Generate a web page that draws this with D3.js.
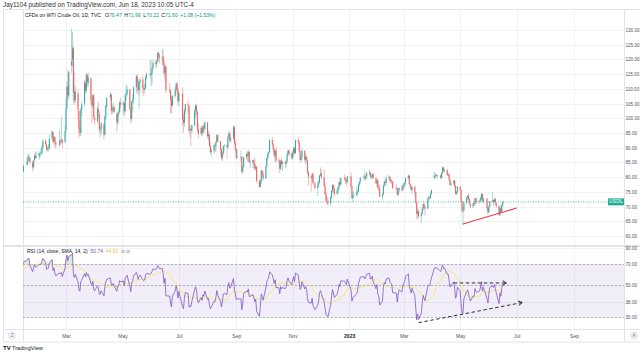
<!DOCTYPE html>
<html>
<head>
<meta charset="utf-8">
<script src="https://cdn.jsdelivr.net/npm/d3@7"></script>
<style>
  body { margin: 0; background: #fff; }
  svg { display: block; font-family: "Liberation Sans", Arial, sans-serif; }
</style>
</head>
<body>
<div id="container"></div>
<script>
let w = 640;
let h = 352;

// exchange holidays (no daily bar)
let holidays = ["2021-12-24","2022-01-17","2022-02-21","2022-04-15","2022-05-30","2022-06-20",
  "2022-07-04","2022-09-05","2022-11-24","2022-12-26","2023-01-02","2023-01-16","2023-02-20",
  "2023-04-07","2023-05-29"];
let firstDay = "2021-11-29";

// daily bars [open, high, low, close], one per trading day from firstDay
let ohlc = [
  // Nov/Dec 2021 (before the visible window, used for RSI warm-up)
  [68.5,70.9,67.4,69.9],[69.9,70.2,64.4,66.2],[66.2,69.4,64.6,65.6],[65.6,67.1,62.4,66.5],[66.5,69.1,64.9,66.3],
  [66.3,69.9,66.2,69.5],[69.5,72.4,69.4,72.1],[72.1,72.9,71.5,72.4],[72.4,72.6,70.3,70.9],[70.9,72.1,70.2,71.7],
  [71.7,72.1,70.4,71.3],[71.3,71.7,69.9,70.7],[70.7,71.4,69.3,70.9],[70.9,72.9,70.6,72.4],[72.4,72.5,69.8,70.9],
  [70.9,71.0,66.1,68.2],[68.2,71.3,68.1,71.1],[71.1,72.9,70.8,72.8],[72.8,73.9,72.5,73.8],[73.8,75.8,72.6,75.6],
  [75.6,76.9,75.3,76.0],[76.0,77.0,75.1,76.6],[76.6,77.2,75.8,77.0],[77.0,77.1,74.9,75.2],
  // Jan 2022
  [75.2,76.6,74.3,76.1],[76.1,77.6,75.6,77.0],[77.0,78.4,76.3,77.9],[77.9,80.2,76.7,79.5],[79.5,80.0,78.1,78.9],
  [78.9,79.2,77.3,78.2],[78.2,81.3,77.9,81.2],[81.2,82.7,81.0,82.6],
  [82.6,83.0,81.3,82.1],[82.0,84.3,81.7,83.8],[84.1,86.6,83.9,85.4],[85.5,87.9,84.5,87.0],[86.8,87.9,85.4,86.9],
  [86.5,86.8,84.5,85.1],[85.0,85.6,81.9,83.3],[83.4,85.8,82.8,85.6],[85.8,87.9,85.3,87.4],[87.3,88.5,86.0,86.6],
  [86.6,88.8,86.4,86.8],[87.0,88.3,85.9,88.2],
  // Feb 2022
  [88.2,88.9,86.6,88.2],[88.1,89.7,87.6,88.3],[88.2,90.5,87.3,90.3],[90.2,93.2,89.4,92.3],[92.5,93.0,90.5,91.3],
  [91.1,91.5,88.5,89.4],[89.4,90.3,88.9,89.7],[89.9,91.2,88.7,89.9],[89.8,94.7,89.4,93.1],[93.5,95.8,92.5,95.5],
  [95.3,95.5,91.5,92.1],[92.0,93.8,91.0,93.7],[93.6,93.8,90.2,91.8],[91.8,92.3,89.6,91.1],[91.0,96.0,90.1,92.4],
  [92.3,93.0,91.0,92.1],[92.7,100.5,91.4,92.8],[92.6,93.0,89.9,91.6],[92.0,97.4,91.4,95.7],
  // Mar 2022
  [96.0,106.8,95.3,103.4],[103.5,112.5,103.0,110.6],[110.9,116.6,106.5,107.7],[107.8,116.0,106.5,115.7],
  [118.0,130.5,115.4,119.4],[120.0,129.4,117.6,123.7],[124.0,124.5,105.3,108.7],[109.0,116.0,104.5,106.0],
  [106.2,111.3,105.2,109.3],[108.5,109.9,99.8,103.0],[102.5,103.2,93.5,96.4],[96.5,99.4,93.9,95.0],
  [95.0,103.6,94.0,103.0],[102.8,105.7,100.6,104.7],[105.0,112.7,103.7,112.1],[111.9,112.9,108.3,109.3],
  [109.5,115.4,108.5,114.9],[114.6,115.1,110.5,112.3],[112.0,115.7,110.7,113.9],[113.5,114.0,104.9,106.0],
  [105.8,107.0,98.4,104.2],[104.4,108.4,103.3,107.8],[107.8,108.2,99.8,100.3],
  // Apr 2022
  [100.0,101.2,97.7,99.3],[99.0,104.3,98.2,103.3],[103.0,105.7,100.4,102.0],[101.5,102.3,94.9,96.2],
  [96.0,97.4,93.5,96.0],[96.2,98.8,94.6,98.3],[97.8,98.4,92.9,94.3],[94.5,101.0,94.2,100.6],
  [100.5,104.5,99.3,104.3],[104.0,107.1,103.6,107.0],[107.0,109.2,106.0,108.2],[108.0,108.5,101.2,102.6],
  [102.5,104.5,101.3,102.8],[102.8,105.2,102.1,103.8],[103.8,104.3,101.6,102.1],[101.5,102.0,95.3,98.5],
  [98.6,102.3,97.5,101.7],[101.6,103.5,100.5,102.0],[102.1,106.0,101.7,105.4],[105.3,107.0,103.5,104.7],
  // May 2022
  [104.5,105.9,101.0,105.2],[105.0,105.5,100.6,102.4],[102.4,108.5,101.8,107.8],[107.9,111.4,106.0,108.3],
  [108.2,111.0,107.4,109.8],[109.8,110.0,102.7,103.1],[103.0,103.8,98.2,99.8],[99.8,106.0,99.0,105.7],
  [105.6,108.0,102.4,106.1],[106.2,111.0,104.9,110.5],[110.5,114.8,108.4,114.2],[114.2,115.0,109.0,112.4],
  [112.4,113.3,107.8,109.6],[109.5,112.6,103.4,112.2],[112.2,113.8,108.7,113.2],[113.2,114.6,108.5,110.3],
  [110.3,111.4,107.4,109.8],[109.8,111.8,108.6,110.3],[110.3,114.5,109.8,114.1],[114.0,115.5,113.0,115.1],
  [115.2,119.6,113.5,114.7],
  // Jun 2022
  [114.7,119.9,110.9,115.3],[115.2,117.2,111.5,116.9],[116.9,120.0,116.6,118.9],[119.0,120.0,117.4,118.5],
  [118.4,119.7,117.0,119.4],[119.4,122.7,119.1,122.1],[122.1,122.7,119.2,121.5],[121.5,122.0,118.7,120.7],
  [120.7,123.7,117.9,120.9],[120.9,123.3,118.1,118.9],[118.9,119.9,114.3,115.3],[115.3,118.3,112.6,117.6],
  [117.6,117.8,108.6,109.6],[109.6,112.0,108.5,109.5],[109.5,110.0,101.7,106.2],[106.2,107.5,101.5,104.3],
  [104.3,108.0,103.8,107.6],[107.6,110.6,106.9,109.6],[109.6,112.2,109.2,111.8],[111.8,112.3,108.0,109.8],
  [109.8,110.4,104.6,105.8],
  // Jul 2022
  [105.8,109.0,103.9,108.4],[108.4,110.4,97.4,99.5],[99.5,101.5,95.1,98.5],[98.5,103.4,97.0,102.7],
  [102.7,105.0,101.3,104.8],[104.8,106.1,101.6,104.1],[104.1,104.3,95.1,95.8],[95.8,97.7,93.3,96.3],
  [96.3,96.8,90.6,95.8],[95.8,98.0,94.8,97.6],[97.6,103.2,97.4,102.6],[102.6,105.0,100.1,104.2],
  [104.2,104.7,101.1,102.3],[102.3,102.4,95.4,96.4],[96.4,98.4,93.2,94.7],[94.7,97.3,94.0,96.7],
  [96.7,97.5,93.9,95.0],[95.0,97.7,94.2,97.3],[97.3,98.3,95.3,96.4],[96.4,99.1,95.6,98.6],
  // Aug 2022
  [98.6,98.8,93.2,93.9],[93.9,95.6,92.5,94.4],[94.4,95.0,90.2,90.7],[90.7,92.0,87.9,88.5],[88.5,89.7,87.0,89.0],
  [89.0,91.5,88.0,90.8],[90.8,91.2,88.6,90.5],[90.5,92.4,88.3,91.9],[91.9,94.7,91.7,94.3],[94.3,94.4,91.7,92.1],
  [92.1,92.4,87.6,89.4],[89.4,89.8,85.7,86.5],[86.5,88.6,85.4,88.0],[88.0,90.8,87.5,90.5],[90.5,91.3,88.7,90.8],
  [90.8,91.4,86.2,90.2],[90.2,94.2,89.6,93.7],[93.7,95.9,93.0,94.9],[94.9,95.3,91.8,92.5],[92.5,94.0,91.7,93.1],
  [93.1,97.6,92.8,97.0],[97.0,97.5,91.1,91.6],[91.6,92.8,88.8,89.6],
  // Sep 2022
  [89.6,89.8,85.9,86.6],[86.6,89.6,86.3,86.9],[86.9,89.1,85.2,86.9],[86.9,87.1,81.2,81.9],[81.9,84.0,81.3,83.5],
  [83.5,86.9,83.2,86.8],[86.8,88.4,86.0,87.8],[87.8,88.9,85.4,87.3],[87.3,89.4,85.2,88.5],[88.5,88.9,84.9,85.1],
  [85.1,85.9,83.1,85.1],[85.1,86.0,83.0,85.7],[85.7,86.0,83.2,84.5],[84.5,86.6,82.1,82.9],[82.9,84.4,82.4,83.5],
  [83.5,83.7,78.0,78.7],[78.7,79.3,76.3,76.7],[76.7,79.2,76.6,78.5],[78.5,82.4,77.7,82.2],[82.2,82.5,80.4,81.2],
  [81.2,81.9,78.8,79.5],
  // Oct 2022
  [79.5,83.9,79.4,83.6],[83.6,86.8,83.3,86.5],[86.5,88.4,85.6,87.8],[87.8,88.9,86.9,88.5],[88.5,93.0,88.3,92.6],
  [92.6,93.6,90.6,91.1],[91.1,91.5,88.3,89.4],[89.4,89.9,86.4,87.3],[87.3,89.3,84.9,89.1],[89.1,90.3,85.3,85.6],
  [85.6,86.6,84.9,85.5],[85.5,86.1,81.3,82.8],[82.8,85.7,82.5,85.6],[85.6,86.6,84.0,84.5],[84.5,85.5,82.1,85.1],
  [85.1,85.8,83.1,84.6],[84.6,85.6,83.4,85.3],[85.3,88.4,84.8,87.9],[87.9,89.4,87.4,89.1],[89.1,89.2,87.1,87.9],
  [87.9,88.6,85.8,86.5],
  // Nov 2022
  [86.5,89.2,86.0,88.4],[88.4,90.3,87.6,90.0],[90.0,90.0,87.4,88.2],[88.2,92.8,87.9,92.6],[92.6,93.7,91.2,91.8],
  [91.8,92.4,88.4,88.9],[88.9,89.2,85.4,85.8],[85.8,87.6,84.9,86.5],[86.5,90.0,86.0,89.0],[89.0,89.0,85.0,85.9],
  [85.9,88.1,84.3,86.9],[86.9,87.3,85.2,85.6],[85.6,85.9,81.0,81.6],[81.6,82.3,77.2,80.1],[80.1,80.6,75.1,79.7],
  [79.7,81.5,78.3,81.0],[81.0,81.6,77.5,77.9],[77.9,78.5,75.9,76.3],[76.3,78.4,73.6,77.2],[77.2,79.3,76.5,78.2],
  [78.2,80.7,77.8,80.6],
  // Dec 2022
  [80.6,83.3,80.3,81.2],[81.2,82.6,79.1,80.0],[80.0,82.6,76.8,76.9],[76.9,77.7,73.8,74.3],[74.3,75.1,71.9,72.0],
  [72.0,73.3,70.8,71.5],[71.5,73.0,70.3,71.0],[71.0,73.5,70.1,73.2],[73.2,75.6,72.6,75.4],[75.4,77.6,74.8,77.3],
  [77.3,77.5,74.5,76.1],[76.1,76.6,73.4,74.3],[74.3,76.5,74.0,75.2],[75.2,76.8,74.2,76.2],[76.2,78.4,75.9,78.3],
  [78.3,79.8,76.9,77.5],[77.5,79.9,77.4,79.6],[79.6,81.0,78.9,79.5],[79.5,80.0,77.7,79.0],[79.0,79.3,77.1,78.4],
  [78.4,80.5,77.6,80.3],
  // Jan 2023
  [80.3,81.6,76.5,76.9],[76.9,77.4,72.7,72.8],[72.8,74.9,71.5,73.7],[73.7,75.3,73.2,73.8],[73.8,76.7,73.5,74.6],
  [74.6,75.8,73.8,75.1],[75.1,77.6,74.8,77.4],[77.4,78.6,76.6,78.4],[78.4,80.0,77.7,79.9],[79.9,81.0,78.9,80.2],
  [80.2,82.3,79.1,79.5],[79.5,80.8,78.6,80.3],[80.3,81.8,79.5,81.3],[81.3,82.6,80.6,81.6],[81.6,81.8,79.8,80.1],
  [80.1,80.8,79.2,80.2],[80.2,81.2,79.3,81.0],[81.0,81.4,79.5,79.7],[79.7,80.0,77.6,77.9],[77.9,79.3,76.7,78.9],
  // Feb 2023
  [78.9,79.3,76.1,76.4],[76.4,77.6,75.2,75.9],[75.9,77.4,73.1,73.4],[73.4,74.8,72.3,74.1],[74.1,77.5,73.9,77.1],
  [77.1,78.7,76.5,78.5],[78.5,79.1,77.5,78.1],[78.1,80.5,77.0,79.7],[79.7,80.8,78.8,80.1],[80.1,80.3,78.1,79.1],
  [79.1,79.4,77.8,78.6],[78.6,79.4,77.6,78.5],[78.5,78.7,75.8,76.3],[76.3,77.6,75.6,76.2],[76.2,76.6,73.8,74.0],
  [74.0,76.2,73.7,75.4],[75.4,76.6,74.8,76.3],[76.3,77.4,75.1,75.7],[75.7,77.2,75.3,77.1],
  // Mar 2023
  [77.1,78.1,76.1,77.7],[77.7,78.3,76.4,78.2],[78.2,79.9,77.1,79.7],[79.7,80.8,79.4,80.5],[80.5,80.9,77.5,77.6],
  [77.6,77.9,76.2,76.7],[76.7,77.5,75.2,75.7],[75.7,76.9,74.3,76.7],[76.7,77.2,73.8,74.8],[74.8,75.0,70.9,71.3],
  [71.3,71.8,65.7,67.6],[67.6,69.3,66.0,68.4],[68.4,69.1,65.9,66.7],[66.7,68.1,64.4,67.6],[67.6,69.7,67.2,69.3],
  [69.3,71.0,68.9,70.9],[70.9,71.6,69.0,70.0],[70.0,70.3,66.9,69.3],[69.3,73.1,69.2,72.8],[72.8,73.8,71.8,73.2],
  [73.2,73.7,72.2,73.0],[73.0,74.9,72.7,74.4],[74.4,75.7,74.1,75.7],
  // Apr 2023
  [79.8,81.8,79.0,80.4],[80.4,81.4,79.7,80.7],[80.7,81.1,79.8,80.6],[80.6,80.9,79.4,80.7],[80.7,80.8,79.2,79.7],
  [79.7,81.6,79.5,81.5],[81.5,83.5,81.1,83.3],[83.3,83.5,81.8,82.2],[82.2,82.8,81.5,82.5],[82.5,82.6,80.4,80.8],
  [80.8,81.6,80.3,80.9],[80.9,81.1,78.6,79.2],[79.2,79.3,77.1,77.4],[77.4,78.3,76.9,77.9],[77.9,79.1,77.3,78.8],
  [78.8,79.0,76.5,77.1],[77.1,77.3,74.0,74.3],[74.3,75.3,73.9,74.8],[74.8,76.9,74.7,76.8],
  // May 2023
  [76.8,76.9,75.1,75.7],[75.7,75.8,71.4,71.7],[71.7,71.9,67.9,68.6],[68.6,69.6,63.6,68.6],[68.6,71.6,68.4,71.3],
  [71.3,73.3,70.7,73.2],[73.2,73.9,72.3,73.7],[73.7,74.4,72.0,72.6],[72.6,72.9,70.5,70.9],[70.9,71.1,69.4,70.0],
  [70.0,71.4,69.4,71.1],[71.1,71.7,70.3,70.9],[70.9,73.0,70.2,72.8],[72.8,72.9,71.4,71.9],[71.9,72.7,70.9,71.7],
  [71.7,72.5,70.8,72.0],[72.0,73.3,71.4,72.9],[72.9,74.7,72.3,74.3],[74.3,74.4,71.4,71.8],[71.8,72.9,71.0,72.7],
  [72.7,73.0,68.9,69.5],[69.5,69.9,67.0,68.1],
  // Jun 2023
  [68.1,70.4,67.8,70.1],[70.1,72.0,69.9,71.7],[71.7,75.1,71.5,72.2],[72.2,72.3,70.1,71.7],[71.7,72.9,71.4,72.5],
  [72.5,73.2,70.4,71.3],[71.3,71.4,69.5,70.2],[70.2,70.3,66.8,67.1],[67.1,69.6,66.9,69.4],[69.4,70.8,67.9,68.3],
  [68.3,70.9,67.9,70.52],[70.47,71.99,70.22,71.60]
];

let lastPrice = 71.60;

let monthTicks = ["2022-03-01","2022-05-01","2022-07-01","2022-09-01","2022-11-01",
  "2023-01-01","2023-03-01","2023-05-01","2023-07-01","2023-09-01"];
let monthLabels = ["Mar","May","Jul","Sep","Nov","2023","Mar","May","Jul","Sep"];
let priceTicks = [60,65,70,75,80,85,90,95,100,105,110,115,120,125,130];
let rsiTicks = [90,70,50,38,30];
let rsiBands = [70,50,30];

// drawings from the picture: [date, value]
let supportLine = [["2023-05-04",64.1],["2023-07-01",69.5]];
let rsiFlatLine = [["2023-04-24",51.7],["2023-06-20",51.7]];
let rsiRiseLine = [["2023-03-17",27.4],["2023-07-07",37.8]];

let parse = d3.timeParse("%Y-%m-%d");
let fmt = d3.timeFormat("%Y-%m-%d");

// trading days
let dates = [];
let day = parse(firstDay);
while (dates.length < ohlc.length) {
  let dow = day.getDay();
  if (dow != 0 && dow != 6 && !holidays.includes(fmt(day))) dates.push(new Date(day));
  day = d3.timeDay.offset(day, 1);
}
let bars = ohlc.map((d,i)=>({date:dates[i], o:d[0], h:d[1], l:d[2], c:d[3]}));

// RSI(14, close) with Wilder smoothing, then SMA 14 of it
let n = 14;
let avgUp = null, avgDn = null, sumUp = 0, sumDn = 0;
bars.forEach((b,i)=>{
  b.rsi = null; b.ma = null;
  if (i == 0) return;
  let ch = b.c - bars[i-1].c;
  let up = Math.max(ch,0), dn = Math.max(-ch,0);
  if (i <= n) {
    sumUp += up; sumDn += dn;
    if (i == n) { avgUp = sumUp/n; avgDn = sumDn/n; }
  } else {
    avgUp = (avgUp*(n-1)+up)/n;
    avgDn = (avgDn*(n-1)+dn)/n;
  }
  if (avgUp != null) b.rsi = avgDn == 0 ? 100 : 100 - 100/(1+avgUp/avgDn);
});
bars.forEach((b,i)=>{
  let win = bars.slice(Math.max(0,i-n+1), i+1).filter(d=>d.rsi!=null);
  if (win.length == n) b.ma = d3.mean(win, d=>d.rsi);
});

let left = 23, right = 624;
let priceTop = 9, priceBottom = 245;
let rsiTop = 247, rsiBottom = 329;
let axisBottom = 342;

let x = d3.scaleTime().domain([new Date(2022,2,1), new Date(2023,8,1)]).range([66,574]);
let y = d3.scaleLinear().domain([60,130]).range([236,30]);
let yR = d3.scaleLog().domain([30,70]).range([317,264]);

let up = "#26a69a", down = "#ef5350";
let grid = "#f0f2f6", border = "#e0e3eb", textCol = "#50535e";

let viz = d3.select("#container")
  .append("svg")
    .attr("width", w)
    .attr("height", h)
;

let defs = viz.append("defs");
defs.append("clipPath").attr("id","clipPrice")
  .append("rect").attr("x",left).attr("y",priceTop).attr("width",right-left).attr("height",priceBottom-priceTop);
defs.append("clipPath").attr("id","clipRsi")
  .append("rect").attr("x",left).attr("y",rsiTop).attr("width",right-left).attr("height",rsiBottom-rsiTop);
defs.append("marker").attr("id","chev")
  .attr("viewBox","0 0 8 8").attr("refX",6).attr("refY",4)
  .attr("markerWidth",6).attr("markerHeight",6).attr("markerUnits","userSpaceOnUse")
  .attr("orient","auto")
  .append("path").attr("d","M1,1 L6,4 L1,7").attr("fill","none").attr("stroke","#131722").attr("stroke-width",1.2);

// header
viz.append("text").attr("x",3).attr("y",6.5)
  .attr("font-size",6.4).attr("fill","#333")
  .text("Jay1104 published on TradingView.com, Jun 18, 2023 10:05 UTC-4");

// frame
viz.append("rect").attr("x",3.5).attr("y",9.5).attr("width",w).attr("height",axisBottom-9.5)
  .attr("fill","none").attr("stroke",border);

// grids
let vgrid = viz.append("g");
monthTicks.forEach(t=>{
  vgrid.append("line").attr("x1",Math.round(x(parse(t)))+0.5).attr("x2",Math.round(x(parse(t)))+0.5)
    .attr("y1",priceTop).attr("y2",rsiBottom).attr("stroke",grid);
});
priceTicks.forEach(t=>{
  vgrid.append("line").attr("x1",left).attr("x2",right)
    .attr("y1",Math.round(y(t))+0.5).attr("y2",Math.round(y(t))+0.5).attr("stroke",grid);
});
rsiTicks.forEach(t=>{
  vgrid.append("line").attr("x1",left).attr("x2",right)
    .attr("y1",Math.round(yR(t))+0.5).attr("y2",Math.round(yR(t))+0.5).attr("stroke",grid);
});

// structure lines
viz.append("line").attr("x1",left+0.5).attr("x2",left+0.5).attr("y1",9).attr("y2",axisBottom).attr("stroke",border);
viz.append("line").attr("x1",right+0.5).attr("x2",right+0.5).attr("y1",9).attr("y2",axisBottom).attr("stroke",border);
viz.append("rect").attr("x",3).attr("y",priceBottom).attr("width",w).attr("height",2).attr("fill",border);
viz.append("line").attr("x1",3).attr("x2",w).attr("y1",rsiBottom+0.5).attr("y2",rsiBottom+0.5).attr("stroke",border);

// candles
let pricePane = viz.append("g").attr("clip-path","url(#clipPrice)");
let candles = pricePane.selectAll(".bar").data(bars).enter()
  .append("g").attr("class","bar");
candles.append("line")
  .attr("x1",d=>x(d.date)).attr("x2",d=>x(d.date))
  .attr("y1",d=>y(d.h)).attr("y2",d=>y(d.l))
  .attr("stroke",d=>d.c>=d.o?up:down).attr("stroke-opacity",0.5).attr("stroke-width",0.8);
candles.append("rect")
  .attr("x",d=>x(d.date)-0.5).attr("width",1)
  .attr("y",d=>y(Math.max(d.o,d.c)))
  .attr("height",d=>Math.max(0.8, Math.abs(y(d.o)-y(d.c))))
  .attr("fill",d=>d.c>=d.o?up:down).attr("fill-opacity",0.9);

// last price line
pricePane.append("line").attr("x1",left).attr("x2",right)
  .attr("y1",y(lastPrice)).attr("y2",y(lastPrice))
  .attr("stroke",up).attr("stroke-width",0.8).attr("stroke-dasharray","1,1.5");
viz.append("rect").attr("x",608).attr("y",y(lastPrice)-3.5).attr("width",16).attr("height",7).attr("fill","#22ab94");
viz.append("text").attr("x",616).attr("y",y(lastPrice)+1.6).attr("text-anchor","middle")
  .attr("font-size",4.6).attr("fill","#fff").text("USOIL");

// support line
pricePane.append("line")
  .attr("x1",x(parse(supportLine[0][0]))).attr("y1",y(supportLine[0][1]))
  .attr("x2",x(parse(supportLine[1][0]))).attr("y2",y(supportLine[1][1]))
  .attr("stroke","#f23645").attr("stroke-width",1.1);

// legend
let leg = viz.append("text").attr("x",25).attr("y",17).attr("font-size",5.1).attr("fill","#131722");
leg.append("tspan").text("CFDs on WTI Crude Oil, 1D, TVC");
[["O","70.47"],["H","71.99"],["L","70.22"],["C","71.60"]].forEach((p,i)=>{
  leg.append("tspan").attr("dx", i==0?4:2.5).text(p[0]);
  leg.append("tspan").attr("fill","#089981").text(p[1]);
});
leg.append("tspan").attr("dx",2.5).attr("fill","#089981").text("+1.08 (+1.53%)");

// RSI pane
let rsiPane = viz.append("g").attr("clip-path","url(#clipRsi)");
rsiPane.append("rect").attr("x",left).attr("width",right-left)
  .attr("y",yR(70)).attr("height",yR(30)-yR(70)).attr("fill","rgba(126,87,194,0.1)");
rsiBands.forEach(t=>{
  rsiPane.append("line").attr("x1",left).attr("x2",right)
    .attr("y1",Math.round(yR(t))+0.5).attr("y2",Math.round(yR(t))+0.5)
    .attr("stroke","#9598a1").attr("stroke-width",0.7).attr("stroke-dasharray","2,2");
});
let rsiData = bars.filter(d=>d.rsi!=null);
rsiPane.append("path").datum(rsiData)
  .attr("d", d3.area().x(d=>x(d.date)).y0(yR(70)).y1(d=>yR(Math.max(70,d.rsi))))
  .attr("fill","rgba(76,175,80,0.22)");
rsiPane.append("path").datum(rsiData)
  .attr("d", d3.area().x(d=>x(d.date)).y0(yR(30)).y1(d=>yR(Math.min(30,d.rsi))))
  .attr("fill","rgba(242,54,69,0.18)");
rsiPane.append("path").datum(bars.filter(d=>d.ma!=null))
  .attr("d", d3.line().x(d=>x(d.date)).y(d=>yR(d.ma)))
  .attr("fill","none").attr("stroke","#f5e66a").attr("stroke-width",0.9);
rsiPane.append("path").datum(rsiData)
  .attr("d", d3.line().x(d=>x(d.date)).y(d=>yR(d.rsi)))
  .attr("fill","none").attr("stroke","#7e57c2").attr("stroke-width",0.8);

[rsiFlatLine, rsiRiseLine].forEach(seg=>{
  viz.append("line")
    .attr("x1",x(parse(seg[0][0]))).attr("y1",yR(seg[0][1]))
    .attr("x2",x(parse(seg[1][0]))).attr("y2",yR(seg[1][1]))
    .attr("stroke","#131722").attr("stroke-width",0.9).attr("stroke-dasharray","3.5,2.5")
    .attr("marker-end","url(#chev)");
});

let rleg = viz.append("text").attr("x",27).attr("y",252.5).attr("font-size",5).attr("fill","#131722");
rleg.append("tspan").text("RSI (14, close, SMA, 14, 2)");
rleg.append("tspan").attr("dx",3).attr("fill","#7e57c2").text("50.74");
rleg.append("tspan").attr("dx",2.5).attr("fill","#e8c53a").text("44.93");
rleg.append("tspan").attr("dx",2.5).attr("fill","#787b86").text("⊘ ⊘");

// axes
let priceAxis = viz.append("g").attr("transform","translate("+right+",0)")
  .call(d3.axisRight(y).tickValues(priceTicks).tickSize(0).tickPadding(1.5).tickFormat(d3.format(".2f")));
let rsiAxis = viz.append("g").attr("transform","translate("+right+",0)")
  .call(d3.axisRight(yR).tickValues(rsiTicks).tickSize(0).tickPadding(1.5).tickFormat(d3.format(".2f")));
let timeAxis = viz.append("g").attr("transform","translate(0,"+rsiBottom+")")
  .call(d3.axisBottom(x).tickValues(monthTicks.map(parse)).tickSize(0).tickPadding(5)
    .tickFormat((d,i)=>monthLabels[i]));
[priceAxis, rsiAxis, timeAxis].forEach(a=>{
  a.select(".domain").remove();
  a.selectAll("text").attr("font-size",4.6).attr("fill",textCol).attr("font-family","Liberation Sans, Arial, sans-serif");
});
timeAxis.selectAll("text").attr("font-size",5);
timeAxis.selectAll("text").filter((d,i)=>monthLabels[i]=="2023").attr("font-weight","bold").attr("fill","#131722");

// axis buttons
viz.append("circle").attr("cx",12).attr("cy",335.5).attr("r",3.6).attr("fill","#f0f3fa").attr("stroke",border);
viz.append("text").attr("x",12).attr("y",337.3).attr("text-anchor","middle").attr("font-size",4.5).attr("fill","#787b86").text("Z");
viz.append("circle").attr("cx",634).attr("cy",335.5).attr("r",3.6).attr("fill","#f0f3fa").attr("stroke",border);
viz.append("text").attr("x",634).attr("y",337.3).attr("text-anchor","middle").attr("font-size",4.5).attr("fill","#787b86").text("A");

// branding
viz.append("text").attr("x",3).attr("y",349.5).attr("font-size",6).attr("font-weight","bold").attr("fill","#131722").text("TV");
viz.append("text").attr("x",12).attr("y",349.5).attr("font-size",5.6).attr("fill","#131722").text("TradingView");
</script>
</body>
</html>
